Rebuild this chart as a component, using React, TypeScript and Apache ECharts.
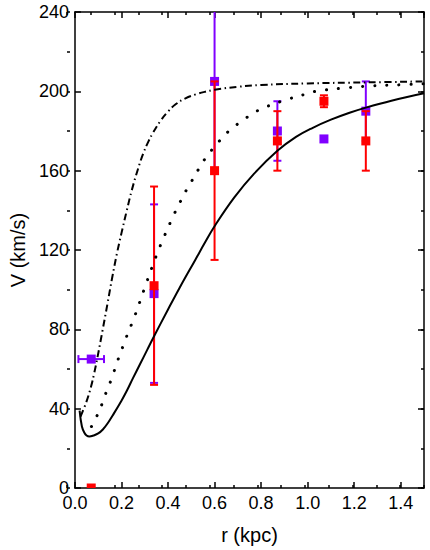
import React, { useEffect, useRef } from "react";
import * as echarts from "echarts";

// Observed data
const redR = [0.07, 0.34, 0.6, 0.87, 1.07, 1.25];
const redV = [0, 102, 160, 175, 195, 175];
const redErr = [0, 50, 45, 15, 3, 15];

const violetR = [0.07, 0.34, 0.6, 0.87, 1.07, 1.25];
const violetV = [65, 98, 205, 180, 176, 190];
const violetErr = [0, 45, 45, 15, 0, 15];
const violetRErr = [0.055, 0, 0, 0, 0, 0];

// Model curves
const solidR = [0.02, 0.03, 0.04, 0.05, 0.062, 0.08, 0.1, 0.12, 0.14, 0.167, 0.2, 0.223, 0.25, 0.28, 0.31, 0.34, 0.4, 0.45, 0.517, 0.56, 0.6, 0.685, 0.77, 0.87, 0.95, 1.02, 1.1, 1.18, 1.25, 1.36, 1.5];
const solidV = [39, 31, 28, 26.5, 26, 26.5, 27.5, 29.5, 32.5, 37.5, 44, 49, 55.5, 62.5, 69.5, 76.5, 90, 101, 115, 124, 132, 146.5, 158.5, 170, 177, 181.5, 185.7, 189.2, 191.8, 195.3, 199];

const dotR = [0.071, 0.1, 0.12, 0.139, 0.16, 0.178, 0.197, 0.216, 0.258, 0.297, 0.335, 0.356, 0.377, 0.422, 0.447, 0.475, 0.503, 0.531, 0.559, 0.594, 0.629, 0.671, 0.72, 0.766, 0.818, 0.92, 0.98, 1.03, 1.15, 1.27, 1.38, 1.5];
const dotV = [31, 37.7, 43.5, 49.8, 55.8, 62.4, 68.4, 74.6, 87, 100, 112.5, 119, 125, 137, 143, 149.4, 155, 160.7, 166, 171.3, 176, 181, 185.2, 189, 192, 196.2, 198.2, 199.9, 201.6, 202.7, 203.2, 203.8];

const dashR = [0.024, 0.048, 0.069, 0.083, 0.097, 0.11, 0.118, 0.14, 0.16, 0.18, 0.2, 0.223, 0.244, 0.27, 0.293, 0.315, 0.335, 0.37, 0.4, 0.43, 0.475, 0.52, 0.56, 0.6, 0.7, 0.8, 1.0, 1.25, 1.5];
const dashV = [36, 43, 51, 58, 66, 74, 79, 93, 106, 118, 128.5, 140, 150, 160.5, 168.5, 174.5, 179, 185.5, 189.8, 193.2, 196.5, 198.5, 199.8, 200.8, 202.3, 203.2, 204, 204.5, 205];

const xTickLabels = ["0.0", "0.2", "0.4", "0.6", "0.8", "1.0", "1.2", "1.4"];

const RED = "#ff0000";
const VIOLET = "#8000ff";
const FONT = "Liberation Sans, Arial, sans-serif";

const zip = (a: number[], b: number[]) => a.map((v, i) => [v, b[i]]);

function errRender(color: string) {
  return (params: any, api: any) => {
    const x = api.value(0);
    const y = api.value(1);
    const ey = api.value(2);
    const ex = api.value(3);
    const children: any[] = [];
    const style = { stroke: color, lineWidth: 2 };
    const cap = 4;
    if (ey > 0) {
      const t = api.coord([x, y + ey]);
      const b = api.coord([x, y - ey]);
      children.push({ type: "line", shape: { x1: t[0], y1: t[1], x2: b[0], y2: b[1] }, style });
      children.push({ type: "line", shape: { x1: t[0] - cap, y1: t[1], x2: t[0] + cap, y2: t[1] }, style });
      children.push({ type: "line", shape: { x1: b[0] - cap, y1: b[1], x2: b[0] + cap, y2: b[1] }, style });
    }
    if (ex > 0) {
      const l = api.coord([x - ex, y]);
      const r = api.coord([x + ex, y]);
      children.push({ type: "line", shape: { x1: l[0], y1: l[1], x2: r[0], y2: r[1] }, style });
      children.push({ type: "line", shape: { x1: l[0], y1: l[1] - cap, x2: l[0], y2: l[1] + cap }, style });
      children.push({ type: "line", shape: { x1: r[0], y1: r[1] - cap, x2: r[0], y2: r[1] + cap }, style });
    }
    return { type: "group", children };
  };
}

function squareRender(color: string) {
  return (params: any, api: any) => {
    const p = api.coord([api.value(0), api.value(1)]);
    const s = 9;
    return { type: "rect", shape: { x: p[0] - s / 2, y: p[1] - s / 2, width: s, height: s }, style: { fill: color } };
  };
}

export default function App() {
  const ref = useRef<HTMLDivElement>(null);
  useEffect(() => {
    if (!ref.current) return;
    const chart = echarts.init(ref.current, undefined, { renderer: "svg" });
    const gridRect = { left: 67, right: 6, top: 12, bottom: 62 };
    const lineCol = { color: "#000", width: 1.5 };
    const majorX = (pos: string, labels: boolean) => ({
      gridIndex: 0,
      type: "value",
      position: pos,
      min: 0,
      max: 1.5,
      interval: 0.2,
      axisLine: { show: true, onZero: false, lineStyle: lineCol },
      axisTick: { show: true, inside: true, length: 6, lineStyle: lineCol },
      splitLine: { show: false },
      axisLabel: {
        show: labels,
        showMaxLabel: false,
        margin: 8,
        fontSize: 18,
        lineHeight: 14,
        color: "#000",
        fontFamily: FONT,
        formatter: (v: number) => xTickLabels[Math.round(v / 0.2)] ?? "",
      },
      ...(labels
        ? {
            name: "r (kpc)",
            nameLocation: "middle",
            nameGap: 37,
            nameTextStyle: { fontSize: 20, color: "#000", fontFamily: FONT },
          }
        : {}),
    });
    const majorY = (pos: string, labels: boolean) => ({
      gridIndex: 0,
      type: "value",
      position: pos,
      min: 0,
      max: 240,
      interval: 40,
      axisLine: { show: true, onZero: false, lineStyle: lineCol },
      axisTick: { show: true, inside: true, length: 6, lineStyle: lineCol },
      splitLine: { show: false },
      axisLabel: { show: labels, margin: 6, fontSize: 18, lineHeight: 14, color: "#000", fontFamily: FONT },
      ...(labels
        ? {
            name: "V (km/s)",
            nameLocation: "middle",
            nameGap: 42,
            nameTextStyle: { fontSize: 20, color: "#000", fontFamily: FONT },
          }
        : {}),
    });
    const minorX = (pos: string) => ({
      gridIndex: 1,
      type: "value",
      position: pos,
      min: 0,
      max: 1.5,
      interval: 0.1,
      axisLine: { show: false, onZero: false },
      axisTick: { show: true, inside: true, length: 3, lineStyle: lineCol },
      splitLine: { show: false },
      axisLabel: { show: false },
    });
    const minorY = (pos: string) => ({
      gridIndex: 1,
      type: "value",
      position: pos,
      min: 0,
      max: 240,
      interval: 20,
      axisLine: { show: false, onZero: false },
      axisTick: { show: true, inside: true, length: 3, lineStyle: lineCol },
      splitLine: { show: false },
      axisLabel: { show: false },
    });

    const lineBase = {
      type: "line",
      xAxisIndex: 0,
      yAxisIndex: 0,
      showSymbol: false,
      symbol: "none",
      smooth: 0.4,
      silent: true,
    };

    const option: any = {
      animation: false,
      backgroundColor: "#fff",
      grid: [gridRect, gridRect],
      xAxis: [majorX("bottom", true), majorX("top", false), minorX("bottom"), minorX("top")],
      yAxis: [majorY("left", true), majorY("right", false), minorY("left"), minorY("right")],
      series: [
        { ...lineBase, data: zip(solidR, solidV), lineStyle: { color: "#000", width: 2, type: "solid" } },
        { ...lineBase, data: zip(dotR, dotV), lineStyle: { color: "#000", width: 3, type: [0.1, 12], cap: "round" } },
        { ...lineBase, data: zip(dashR, dashV), lineStyle: { color: "#000", width: 2, type: [7, 3.5, 1.5, 3.5] } },
        {
          type: "custom",
          xAxisIndex: 0,
          yAxisIndex: 0,
          clip: true,
          renderItem: errRender(VIOLET),
          data: violetR.map((r, i) => [r, violetV[i], violetErr[i], violetRErr[i]]),
        },
        {
          type: "custom",
          xAxisIndex: 0,
          yAxisIndex: 0,
          clip: true,
          renderItem: squareRender(VIOLET),
          data: zip(violetR, violetV),
        },
        {
          type: "custom",
          xAxisIndex: 0,
          yAxisIndex: 0,
          clip: true,
          renderItem: errRender(RED),
          data: redR.map((r, i) => [r, redV[i], redErr[i], 0]),
        },
        {
          type: "custom",
          xAxisIndex: 0,
          yAxisIndex: 0,
          clip: true,
          renderItem: squareRender(RED),
          data: zip(redR, redV),
        },
      ],
    };
    chart.setOption(option);
    return () => chart.dispose();
  }, []);
  return <div ref={ref} style={{ position: "absolute", left: 0, top: 0, width: 430, height: 550 }} />;
}
